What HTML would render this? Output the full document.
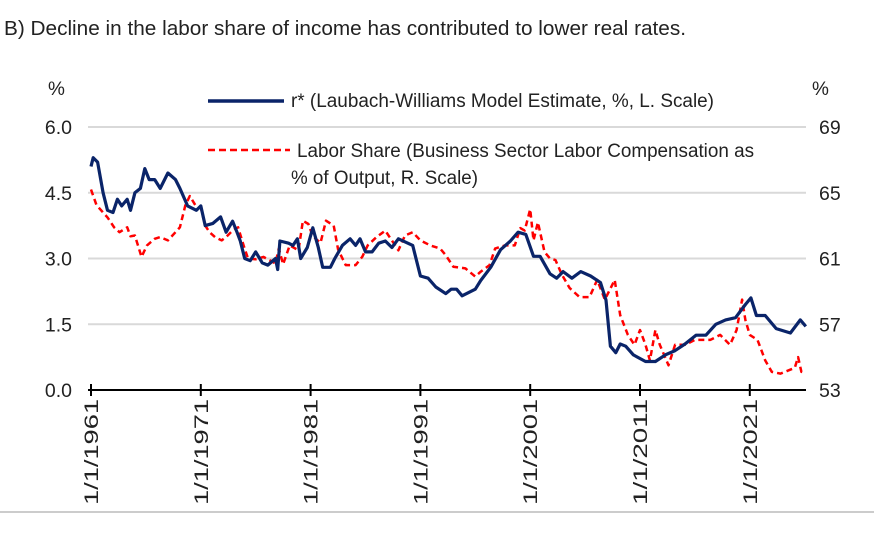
<!DOCTYPE html>
<html><head><meta charset="utf-8"><style>
body{margin:0;background:#fff;width:874px;height:528px;overflow:hidden;font-family:"Liberation Sans",sans-serif}
svg text{font-family:"Liberation Sans",sans-serif;fill:#222}
</style></head><body>
<svg id="chart" width="874" height="528">
<text x="4" y="35" font-size="20" textLength="682" lengthAdjust="spacingAndGlyphs">B) Decline in the labor share of income has contributed to lower real rates.</text>
<text x="48" y="95" font-size="19">%</text>
<text x="812" y="95" font-size="19">%</text>
<g id="grid"></g><g id="series"></g><g id="axes"></g>
<line x1="208" y1="101" x2="284" y2="101" stroke="#0a2469" stroke-width="3.5"/>
<text x="291" y="107" font-size="19" textLength="423" lengthAdjust="spacingAndGlyphs">r* (Laubach-Williams Model Estimate, %, L. Scale)</text>
<line x1="208" y1="150" x2="290" y2="150" stroke="#f00" stroke-width="2.5" stroke-dasharray="7,4"/>
<text x="297" y="157" font-size="19" textLength="457" lengthAdjust="spacingAndGlyphs">Labor Share (Business Sector Labor Compensation as</text>
<text x="291" y="184" font-size="19" textLength="187" lengthAdjust="spacingAndGlyphs">% of Output, R. Scale)</text>
<line x1="0" y1="512" x2="874" y2="512" stroke="#bbb" stroke-width="1.5"/>
</svg>
<script>
const leftTicks=[0,1.5,3,4.5,6];
const leftLabels=["0.0","1.5","3.0","4.5","6.0"];
const rightTicks=[53,57,61,65,69];
const xTickYears=[1961,1971,1981,1991,2001,2011,2021];
const xTickLabels=["1/1/1961","1/1/1971","1/1/1981","1/1/1991","1/1/2001","1/1/2011","1/1/2021"];
const rstarYears=[1961.0,1961.2,1961.6,1962.1,1962.5,1963.0,1963.4,1963.8,1964.3,1964.6,1965.0,1965.5,1965.9,1966.3,1966.8,1967.3,1968.0,1968.7,1969.1,1969.8,1970.6,1971.0,1971.4,1972.1,1972.8,1973.3,1973.9,1974.3,1974.6,1975.0,1975.5,1976.0,1976.6,1977.1,1977.8,1978.0,1978.2,1979.0,1979.4,1979.8,1980.1,1980.7,1981.2,1981.7,1982.1,1982.8,1983.2,1983.9,1984.6,1985.1,1985.5,1986.0,1986.6,1987.2,1987.8,1988.4,1989.0,1990.3,1991.0,1991.7,1992.4,1993.3,1993.8,1994.3,1994.8,1996.0,1996.5,1997.4,1998.3,1999.2,1999.9,2000.6,2001.3,2001.9,2002.8,2003.4,2004.0,2004.8,2005.6,2006.5,2007.4,2007.9,2008.3,2008.8,2009.2,2009.7,2010.4,2011.5,2012.4,2013.3,2014.2,2015.1,2016.1,2017.0,2017.9,2018.8,2019.7,2020.6,2021.1,2021.6,2022.4,2023.4,2024.7,2025.6,2026.1];
const rstarValues=[5.1,5.3,5.2,4.5,4.1,4.05,4.35,4.2,4.35,4.1,4.5,4.6,5.05,4.8,4.8,4.6,4.95,4.8,4.6,4.2,4.1,4.2,3.75,3.8,3.95,3.6,3.85,3.6,3.4,3.0,2.95,3.15,2.9,2.85,3.0,2.75,3.4,3.35,3.3,3.45,3.0,3.25,3.7,3.25,2.8,2.8,3.0,3.3,3.45,3.3,3.45,3.15,3.15,3.35,3.4,3.25,3.45,3.3,2.6,2.55,2.35,2.2,2.3,2.3,2.15,2.3,2.5,2.8,3.2,3.4,3.6,3.55,3.05,3.05,2.65,2.55,2.7,2.55,2.7,2.6,2.45,2.05,1.0,0.85,1.05,1.0,0.8,0.65,0.65,0.8,0.9,1.05,1.25,1.25,1.5,1.6,1.65,1.95,2.1,1.7,1.7,1.4,1.3,1.6,1.45];
const laborYears=[1961.0,1961.5,1962.1,1962.5,1963.1,1963.6,1964.3,1964.6,1965.0,1965.6,1966.1,1966.8,1967.3,1968.0,1968.7,1969.1,1969.6,1970.0,1970.5,1971.0,1971.4,1971.8,1972.3,1972.9,1973.3,1973.9,1974.4,1974.9,1975.3,1976.0,1976.7,1977.8,1978.1,1978.5,1979.1,1979.9,1980.3,1980.8,1981.2,1981.9,1982.4,1983.1,1983.5,1984.2,1985.1,1985.7,1986.2,1987.0,1987.8,1989.0,1989.6,1990.3,1991.0,1991.9,1992.8,1993.3,1994.0,1995.1,1996.0,1996.5,1997.3,1997.8,1998.7,1999.6,2000.1,2000.5,2001.0,2001.3,2001.7,2002.3,2002.8,2003.3,2003.9,2004.6,2005.5,2006.4,2007.1,2007.8,2008.7,2009.2,2009.9,2010.5,2011.0,2011.5,2011.9,2012.4,2012.8,2013.6,2014.2,2015.1,2016.0,2017.4,2018.3,2019.2,2019.8,2020.3,2020.6,2021.0,2021.7,2022.4,2023.0,2023.8,2025.1,2025.4,2025.7,2026.0];
const laborValues=[65.2,64.25,63.8,63.5,62.9,62.6,62.9,62.35,62.4,61.1,61.8,62.2,62.3,62.1,62.6,62.9,64.25,64.8,64.25,64.1,63.0,62.6,62.3,62.1,62.3,62.7,62.9,61.8,61.0,60.95,61.1,60.7,61.6,60.65,61.8,61.5,63.3,63.1,62.35,61.95,63.3,63.0,61.55,60.6,60.6,61.1,61.8,62.3,62.7,61.5,62.4,62.6,62.1,61.8,61.6,61.2,60.5,60.4,59.9,60.2,60.6,61.6,61.8,61.8,62.85,62.7,64.0,62.1,63.2,61.4,61.0,60.9,60.0,59.2,58.65,58.65,59.7,58.5,59.7,57.55,56.35,55.75,56.65,55.75,54.8,56.65,55.75,54.5,55.75,55.75,56.05,56.05,56.35,55.75,56.65,58.5,57.25,56.35,56.05,54.8,54.1,54.0,54.35,55.0,54.1,54.1];

const NS="http://www.w3.org/2000/svg";
const X0=91,PXY=10.98,YB=390,YT=127;
const xs=y=>X0+(y-1961)*PXY;
const yl=v=>YB-(v-0)/6*(YB-YT);
const yr=v=>YB-(v-53)/16*(YB-YT);
function mk(tag,parent,attrs){const e=document.createElementNS(NS,tag);for(const k in attrs)e.setAttribute(k,attrs[k]);parent.appendChild(e);return e;}
const grid=document.getElementById('grid'),axes=document.getElementById('axes'),ser=document.getElementById('series');
leftTicks.forEach((t,i)=>{
  if(t>0){const g=mk('line',grid,{x1:88,x2:806,y1:yl(t),y2:yl(t),stroke:'#d9d9d9','stroke-width':2});
  
  }
  const tx=mk('text',axes,{x:72,y:yl(t)+7,'text-anchor':'end','font-size':19.5});tx.textContent=leftLabels[i];
  
  
});
rightTicks.forEach(t=>{
  const tx=mk('text',axes,{x:819,y:yr(t)+7,'font-size':19.5});tx.textContent=String(t);
  
  
});
const ax=mk('line',axes,{x1:88,x2:806,y1:YB,y2:YB,stroke:'#000','stroke-width':2});


xTickYears.forEach((yv,i)=>{
  const x=xs(yv);
  const tk=mk('line',axes,{x1:x,x2:x,y1:YB-6,y2:YB+6,stroke:'#000','stroke-width':2});
  
  
  const tx=mk('text',axes,{x:0,y:0,'text-anchor':'end','font-size':19,textLength:106,lengthAdjust:'spacingAndGlyphs',transform:`translate(${x+7},399) rotate(-90)`});
  tx.textContent=xTickLabels[i];
  
  
});
const lp=laborYears.map((y,i)=>xs(y).toFixed(1)+','+yr(laborValues[i]).toFixed(1)).join(' ');
const l1=mk('polyline',ser,{points:lp,fill:'none',stroke:'#f00','stroke-width':2.5,'stroke-dasharray':'6,4','stroke-linejoin':'round'});


const rp=rstarYears.map((y,i)=>xs(y).toFixed(1)+','+yl(rstarValues[i]).toFixed(1)).join(' ');
const l2=mk('polyline',ser,{points:rp,fill:'none',stroke:'#0a2469','stroke-width':3.2,'stroke-linejoin':'round'});


</script>
</body></html>
